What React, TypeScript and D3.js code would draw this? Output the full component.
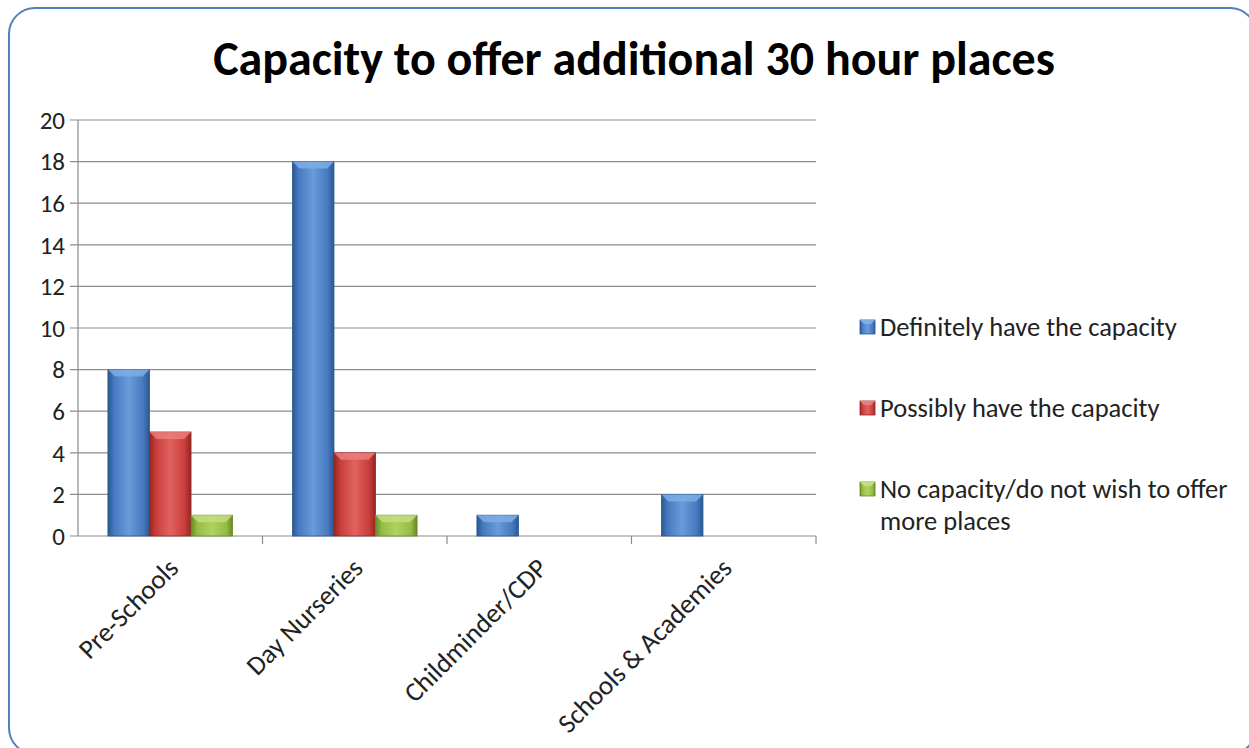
import React, { useRef, useEffect } from "react";
import * as d3 from "d3";

const categories = ["Pre-Schools", "Day Nurseries", "Childminder/CDP", "Schools & Academies"];
const seriesNames = ["Definitely have the capacity", "Possibly have the capacity", "No capacity/do not wish to offer more places"];
const definitely = [8, 18, 1, 2];
const possibly = [5, 4, 0, 0];
const noCapacity = [1, 1, 0, 0];
const yTicks = [0, 2, 4, 6, 8, 10, 12, 14, 16, 18, 20];

const palette = [
  { light: "#6a9cda", mid: "#4679c0", dark: "#2b5890", top: "#7eaee6" },
  { light: "#e06360", mid: "#c93d3a", dark: "#922624", top: "#ea7e7b" },
  { light: "#b0d165", mid: "#95bc42", dark: "#68892a", top: "#c2df7d" },
];

const App: React.FC = () => {
  const ref = useRef<SVGSVGElement>(null);

  useEffect(() => {
    if (!ref.current) return;
    const svg = d3.select(ref.current);
    svg.selectAll("*").remove();

    const plot = { left: 78, right: 816, top: 120, bottom: 536 };
    const font = "Carlito, 'Open Sans', 'Liberation Sans', sans-serif";

    const defs = svg.append("defs");
    palette.forEach((p, i) => {
      const g = defs
        .append("linearGradient")
        .attr("id", `grad${i}`)
        .attr("x1", "0")
        .attr("x2", "1")
        .attr("y1", "0")
        .attr("y2", "0");
      g.append("stop").attr("offset", "0%").attr("stop-color", p.dark);
      g.append("stop").attr("offset", "15%").attr("stop-color", p.mid);
      g.append("stop").attr("offset", "50%").attr("stop-color", p.light);
      g.append("stop").attr("offset", "85%").attr("stop-color", p.mid);
      g.append("stop").attr("offset", "100%").attr("stop-color", p.dark);
    });

    // frame (runs off the right and bottom edges like the source)
    svg
      .append("rect")
      .attr("x", 9)
      .attr("y", 8)
      .attr("width", 1247)
      .attr("height", 746)
      .attr("rx", 26)
      .attr("fill", "#fff")
      .attr("stroke", "#4f81bd")
      .attr("stroke-width", 2);

    svg
      .append("text")
      .attr("x", 634)
      .attr("y", 75)
      .attr("text-anchor", "middle")
      .attr("font-family", font)
      .attr("font-weight", "bold")
      .attr("font-size", 48)
      .attr("fill", "#000")
      .text("Capacity to offer additional 30 hour places");

    const x0 = d3.scaleBand().domain(categories).range([plot.left, plot.right]).paddingInner(0).paddingOuter(0);
    const x1 = d3
      .scaleBand()
      .domain(seriesNames)
      .range([0, x0.bandwidth()])
      .paddingOuter(0.72)
      .paddingInner(0);
    const y = d3.scaleLinear().domain([0, 20]).range([plot.bottom, plot.top]);

    // gridlines
    svg
      .append("g")
      .selectAll("line")
      .data(yTicks)
      .join("line")
      .attr("x1", plot.left - 8)
      .attr("x2", plot.right)
      .attr("y1", (d) => y(d))
      .attr("y2", (d) => y(d))
      .attr("stroke", "#8c8c8c")
      .attr("stroke-width", 1.2);

    svg
      .append("line")
      .attr("x1", plot.left)
      .attr("x2", plot.left)
      .attr("y1", plot.top)
      .attr("y2", plot.bottom)
      .attr("stroke", "#8c8c8c")
      .attr("stroke-width", 1.2);

    svg
      .append("g")
      .selectAll("text")
      .data(yTicks)
      .join("text")
      .attr("x", 65)
      .attr("y", (d) => y(d))
      .attr("dy", "0.35em")
      .attr("text-anchor", "end")
      .attr("font-family", font)
      .attr("font-size", 25)
      .attr("fill", "#222")
      .text((d) => d);

    // x ticks at band boundaries
    const boundaries = categories.map((c) => (x0(c) as number) + x0.bandwidth());
    svg
      .append("g")
      .selectAll("line")
      .data(boundaries)
      .join("line")
      .attr("x1", (d) => d)
      .attr("x2", (d) => d)
      .attr("y1", plot.bottom)
      .attr("y2", plot.bottom + 8)
      .attr("stroke", "#8c8c8c")
      .attr("stroke-width", 1.2);

    const series = [definitely, possibly, noCapacity];
    const bev = 7;
    series.forEach((vals, si) => {
      const p = palette[si];
      const g = svg.append("g");
      categories.forEach((c, ci) => {
        const v = vals[ci];
        if (!v) return;
        const bx = (x0(c) as number) + (x1(seriesNames[si]) as number);
        const bw = x1.bandwidth();
        const by = y(v);
        const bh = y(0) - by;
        g.append("rect")
          .attr("x", bx)
          .attr("y", by)
          .attr("width", bw)
          .attr("height", bh)
          .attr("fill", `url(#grad${si})`)
          .attr("stroke", p.dark)
          .attr("stroke-width", 0.8);
        g.append("path")
          .attr("d", `M${bx},${by} L${bx + bw},${by} L${bx + bw - bev},${by + bev} L${bx + bev},${by + bev} Z`)
          .attr("fill", p.top)
          .attr("opacity", 0.85);
      });
    });

    // x labels
    svg
      .append("g")
      .selectAll("text")
      .data(categories)
      .join("text")
      .attr("transform", (d) => `translate(${(x0(d) as number) + x0.bandwidth() / 2 + 3},${plot.bottom + 27}) rotate(-45)`)
      .attr("text-anchor", "end")
      .attr("dy", "0.35em")
      .attr("font-family", font)
      .attr("font-size", 27)
      .attr("fill", "#222")
      .text((d) => d);

    // legend
    const legendRows = [
      { lines: ["Definitely have the capacity"], y: 327 },
      { lines: ["Possibly have the capacity"], y: 408 },
      { lines: ["No capacity/do not wish to offer", "more places"], y: 489 },
    ];
    legendRows.forEach((r, i) => {
      const p = palette[i];
      svg
        .append("rect")
        .attr("x", 860)
        .attr("y", r.y - 7)
        .attr("width", 15)
        .attr("height", 14)
        .attr("fill", `url(#grad${i})`)
        .attr("stroke", p.dark)
        .attr("stroke-width", 0.8);
      svg
        .append("path")
        .attr("d", `M860,${r.y - 7} L875,${r.y - 7} L871,${r.y - 3} L864,${r.y - 3} Z`)
        .attr("fill", p.top);
      const t = svg
        .append("text")
        .attr("font-family", font)
        .attr("font-size", 26.5)
        .attr("fill", "#222");
      r.lines.forEach((ln, li) => {
        t.append("tspan")
          .attr("x", 880)
          .attr("y", r.y + li * 32)
          .attr("dy", "0.35em")
          .text(ln);
      });
    });
  }, []);

  return <svg ref={ref} width={1249} height={748} style={{ display: "block", position: "absolute", left: 0, top: 0 }} />;
};

export default App;
